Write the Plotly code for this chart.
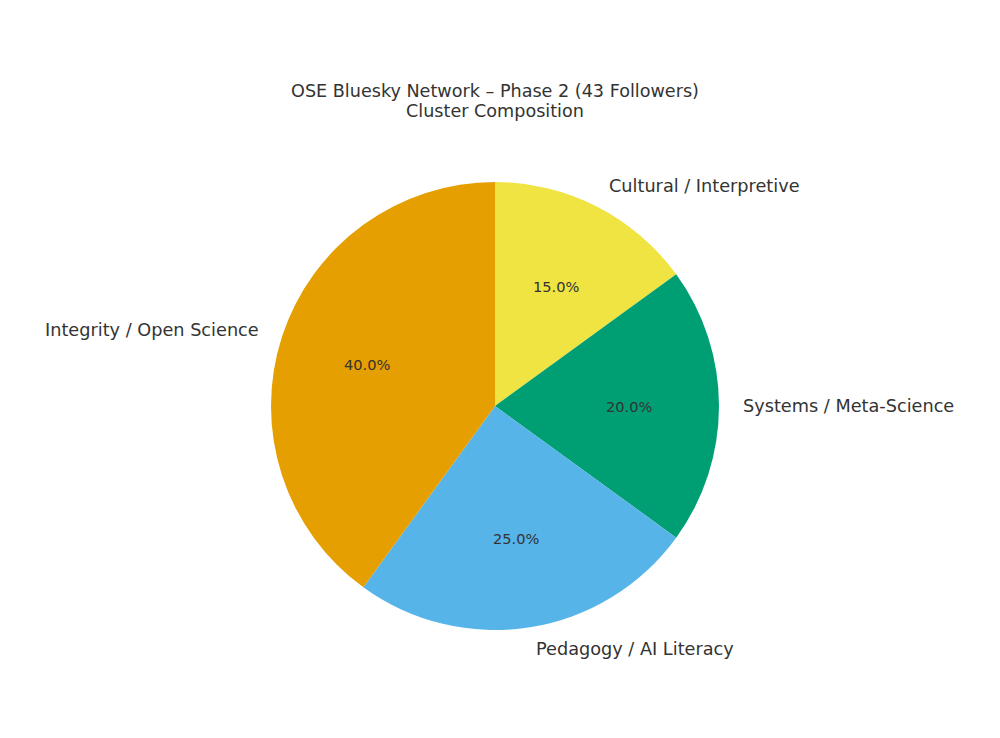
import math
import plotly.graph_objects as go

labels = ["Integrity / Open Science", "Pedagogy / AI Literacy",
          "Systems / Meta-Science", "Cultural / Interpretive"]
shares = [40, 25, 20, 15]
colors = ["#E69F00", "#56B4E9", "#009E73", "#F0E442"]

W, H = 1000, 738
cx, cy, rad = 495, 406, 224  # pie centre / radius in px (from top-left)

# matplotlib draws counterclockwise from 12 o'clock; plotly's clockwise mode
# starts the first slice at 12 o'clock, so feed the slices in reverse
fig = go.Figure()
fig.add_trace(go.Pie(
    labels=labels[::-1],
    values=shares[::-1],
    sort=False,
    direction="clockwise",
    rotation=0,
    marker=dict(colors=colors[::-1], line=dict(width=0)),
    textinfo="none",
    hoverinfo="label+percent",
    showlegend=False,
    domain=dict(x=[(cx - rad) / W, (cx + rad) / W],
                y=[(H - cy - rad) / H, (H - cy + rad) / H]),
))

# matplotlib-style labels: names at 1.1 r, percentages at 0.6 r
total = sum(shares)
start = 90.0
annotations = []
for lab, v in zip(labels, shares):
    span = 360.0 * v / total
    mid = math.radians(start + span / 2)
    start += span
    dx, dy = math.cos(mid), math.sin(mid)
    annotations.append(dict(
        x=(cx + 1.1 * rad * dx) / W, y=(H - cy + 1.1 * rad * dy) / H,
        xref="paper", yref="paper", text=lab, showarrow=False,
        xanchor="left" if dx > 0 else "right", yanchor="middle",
        font=dict(size=17.7, color="#333333"),
    ))
    annotations.append(dict(
        x=(cx + 0.6 * rad * dx) / W, y=(H - cy + 0.6 * rad * dy) / H,
        xref="paper", yref="paper", text=f"{100 * v / total:.1f}%",
        showarrow=False, xanchor="center", yanchor="middle",
        font=dict(size=14.6, color="#333333"),
    ))

# second title line as its own annotation to match matplotlib's line spacing
annotations.append(dict(
    x=0.495, y=(H - 111) / H, xref="paper", yref="paper",
    text="Cluster Composition", showarrow=False,
    xanchor="center", yanchor="middle",
    font=dict(size=17.6, color="#333333"),
))

fig.update_layout(
    width=W, height=H,
    margin=dict(l=0, r=0, t=0, b=0),
    paper_bgcolor="white",
    font=dict(family="DejaVu Sans", color="#333333"),
    title=dict(text="OSE Bluesky Network – Phase 2 (43 Followers)",
               x=0.495, xanchor="center", y=(H - 91) / H, yanchor="middle",
               font=dict(size=17.6, color="#333333")),
    annotations=annotations,
)

fig.write_html("out.html", config={"displayModeBar": False},
               post_script="document.body.style.margin='0';")
